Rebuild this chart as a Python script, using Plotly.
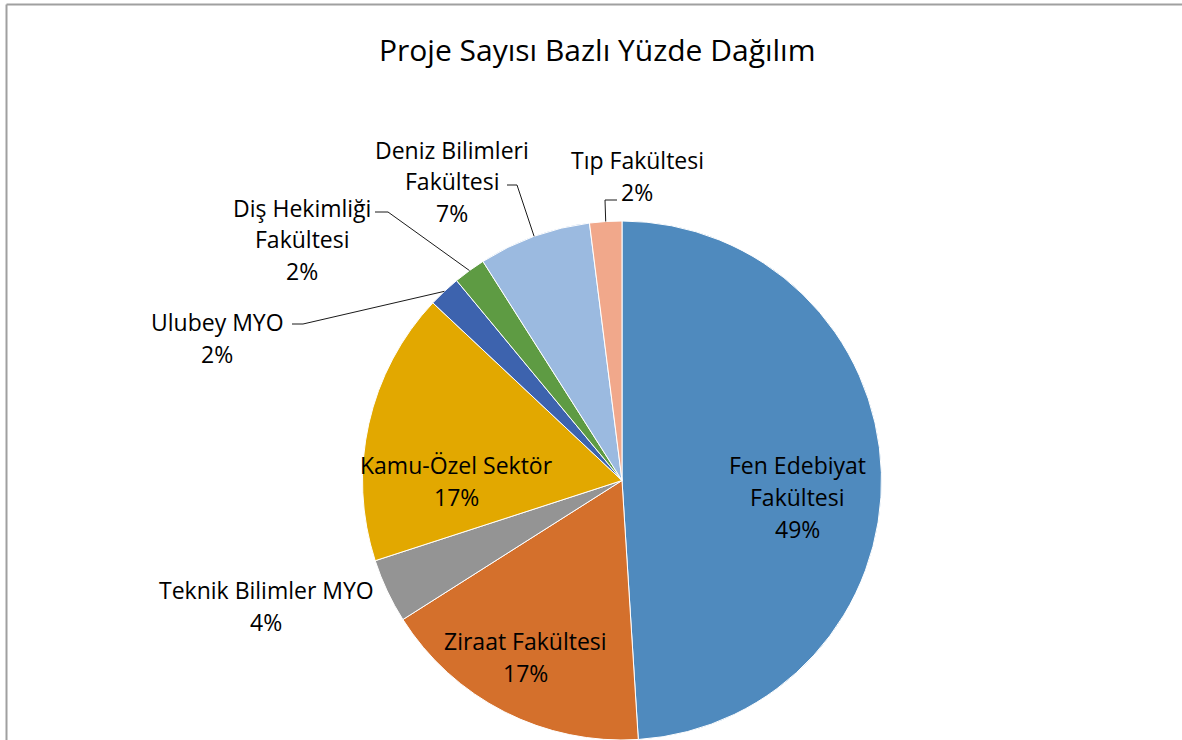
import math
import plotly.graph_objects as go

# ---- data ----
categories = ["Fen Edebiyat Fakültesi", "Ziraat Fakültesi", "Teknik Bilimler MYO",
              "Kamu-Özel Sektör", "Ulubey MYO", "Diş Hekimliği Fakültesi",
              "Deniz Bilimleri Fakültesi", "Tıp Fakültesi"]
label_lines = [["Fen Edebiyat", "Fakültesi"], ["Ziraat Fakültesi"], ["Teknik Bilimler MYO"],
               ["Kamu-Özel Sektör"], ["Ulubey MYO"], ["Diş Hekimliği", "Fakültesi"],
               ["Deniz Bilimleri", "Fakültesi"], ["Tıp Fakültesi"]]
values = [49, 17, 4, 17, 2, 2, 7, 2]
colors = ["#4F8ABE", "#D4702C", "#949494", "#E2A800", "#3D63AE", "#5E9B43", "#9BBAE0", "#F1A88B"]
title_text = "Proje Sayısı Bazlı Yüzde Dağılım"

# ---- layout constants ----
W, H = 1182, 740
CX, CY, R = 622, 480.5, 259.5
FONT = "Open Sans"
FS = 23
LINE = 31.5

# label block centers (px) and leader elbow points
label_pos = [(797, 497), (525, 657), (266, 606), (457, 481),
             (217, 338), (302, 239), (452, 181), (637, 176)]
leader = [None, None, None, None,
          ((292, 324), (303, 324)), ((375, 212), (388, 212)),
          ((507, 185), (517, 185)), ((617, 200), (605, 200))]

total = sum(values)
pcts = [round(100 * v / total) for v in values]

fig = go.Figure(go.Pie(
    labels=categories, values=values, sort=False, direction="clockwise",
    rotation=0, textinfo="none", hoverinfo="label+percent",
    marker=dict(colors=colors, line=dict(color="white", width=1)),
    domain=dict(x=[(CX - R) / W, (CX + R) / W], y=[(H - CY - R) / H, (H - CY + R) / H]),
    showlegend=False,
))

def px(x, y):
    return x / W, 1 - y / H

annotations = []
shapes = []
for i, (lines, (bx, by)) in enumerate(zip(label_lines, label_pos)):
    all_lines = lines + [f"{pcts[i]}%"]
    n = len(all_lines)
    for j, t in enumerate(all_lines):
        y = by + (j - (n - 1) / 2) * LINE
        xp, yp = px(bx, y)
        annotations.append(dict(text=t, x=xp, y=yp, xref="paper", yref="paper",
                                xanchor="center", yanchor="middle", showarrow=False,
                                font=dict(family=FONT, size=FS, color="#000000")))
    if leader[i] is not None:
        start = sum(values[:i]) / total * 360
        mid = math.radians(start + values[i] / total * 180)
        ex, ey = CX + R * math.sin(mid), CY - R * math.cos(mid)
        (ax, ay), (bx2, by2) = leader[i]
        pts = [px(ax, ay), px(bx2, by2), px(ex, ey)]
        path = "M {} {} L {} {} L {} {}".format(pts[0][0], pts[0][1], pts[1][0], pts[1][1], pts[2][0], pts[2][1])
        shapes.append(dict(type="path", path=path, xref="paper", yref="paper",
                           line=dict(color="#1a1a1a", width=1)))

# chart border (left and top edges visible)
shapes.append(dict(type="line", xref="paper", yref="paper",
                   x0=6.5 / W, x1=6.5 / W, y0=0, y1=1 - 4.5 / H,
                   line=dict(color="#A0A0A0", width=2)))
shapes.append(dict(type="line", xref="paper", yref="paper",
                   x0=6.5 / W, x1=1, y0=1 - 4.5 / H, y1=1 - 4.5 / H,
                   line=dict(color="#A0A0A0", width=2)))

annotations.append(dict(text=title_text, x=597 / W, y=1 - 50 / H, xref="paper", yref="paper",
                        xanchor="center", yanchor="middle", showarrow=False,
                        font=dict(family=FONT, size=30, color="#000000")))

fig.update_layout(width=W, height=H, margin=dict(l=0, r=0, t=0, b=0),
                  paper_bgcolor="white", plot_bgcolor="white",
                  annotations=annotations, shapes=shapes)
fig.write_html("out.html", config={"displayModeBar": False},
               post_script="document.body.style.margin='0';document.body.style.overflow='hidden';")
